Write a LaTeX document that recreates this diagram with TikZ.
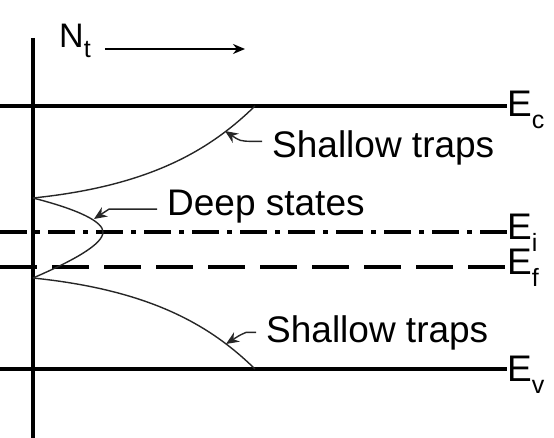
\documentclass[tikz,border=0pt]{standalone}
\usepackage{fontspec}
\setmainfont{Liberation Sans}
\usepackage{tikz}
\usetikzlibrary{arrows.meta,positioning}
\newcommand{\bigtext}{\fontsize{37}{44}\selectfont}
\newcommand{\subtext}{\fontsize{25}{30}\selectfont}
\newcommand{\lvl}[2]{E\raisebox{-12pt}{\subtext #2}}
\tikzset{
  levelline/.style={draw=black, line width=3.4pt},
  intrinsicline/.style={draw=black, line width=3.4pt,
    dash pattern=on 27pt off 8pt on 5pt off 8pt},
  fermiline/.style={draw=black, line width=3.4pt,
    dash pattern=on 37pt off 15pt},
  axisline/.style={draw=black, line width=3.4pt},
  trapcurve/.style={draw=black!85, line width=1.4pt},
  leaderedge/.style={-{Stealth[length=13pt, width=11pt]}, draw=black!85, line width=1.4pt},
  axisarrow/.style={-{Stealth[length=12pt, width=10pt]}, draw=black, line width=2.2pt},
  levellabel/.style={inner sep=0pt, font=\bigtext, anchor=base west},
  traplabel/.style={inner xsep=10pt, inner ysep=0pt, font=\bigtext, anchor=base west},
}
\begin{document}
\begin{tikzpicture}[x=1pt, y=-1pt]
  \useasboundingbox (0,0) rectangle (554,438);
  % axis and density label
  \coordinate (axtop) at (33,38);
  \coordinate (axbot) at (33,438);
  \draw[axisline] (axtop) -- (axbot);
  \node[inner sep=0pt, anchor=base west, font=\fontsize{34}{40}\selectfont] (nt) at (59,48)
    {N\raisebox{-10pt}{\subtext t}};
  \coordinate (ntend) at (245,49);
  \draw[axisarrow] (nt.east |- ntend) ++(14,0) -- (ntend);
  % energy levels
  \node[levellabel] (ec) at (507,117) {\lvl{E}{c}};
  \node[levellabel] (ei) at (507,240) {\lvl{E}{i}};
  \node[levellabel] (ef) at (507,275) {\lvl{E}{f}};
  \node[levellabel] (ev) at (507,381) {\lvl{E}{v}};
  \coordinate (ecl) at (0,106);
  \coordinate (eil) at (0,232);
  \coordinate (efl) at (0,267);
  \coordinate (evl) at (0,369);
  \draw[levelline] (ecl) -- (ec.west |- ecl);
  \draw[intrinsicline] (eil) -- (ei.west |- eil);
  \draw[fermiline] (efl) -- (ef.west |- efl);
  \draw[levelline] (evl) -- (ev.west |- evl);
  % trap distributions
  \coordinate (cbedge) at (255,106);
  \coordinate (upstart) at (33,198);
  \coordinate (deeptip) at (103,232);
  \coordinate (lowstart) at (33,278);
  \coordinate (vbedge) at (255,369);
  \draw[trapcurve] (upstart) .. controls (150,186) and (210,150) .. (cbedge);
  \draw[trapcurve] (upstart) .. controls (80,210) and (103,222) .. (deeptip)
    .. controls (103,245) and (70,262) .. (lowstart);
  \draw[trapcurve] (lowstart) .. controls (150,290) and (210,325) .. (vbedge);
  % labels with leaders
  \node[traplabel] (shup) at (262,158) {Shallow traps};
  \node[traplabel] (deep) at (157,216) {Deep states};
  \node[traplabel] (shlow) at (256,342) {Shallow traps};
  \coordinate (shuptip) at (225,131);
  \coordinate (deeparr) at (94,219);
  \coordinate (shlowtip) at (226,344);
  \draw[leaderedge] ([yshift=7pt]shup.west) -- ++(-10,0) .. controls (240,141) .. (shuptip);
  \draw[leaderedge] ([yshift=-2pt]deep.west) -- ++(-48,0) -- (deeparr);
  \draw[leaderedge] (shlow.west) -- ++(-10,0) .. controls (240,335) .. (shlowtip);
\end{tikzpicture}
\end{document}
